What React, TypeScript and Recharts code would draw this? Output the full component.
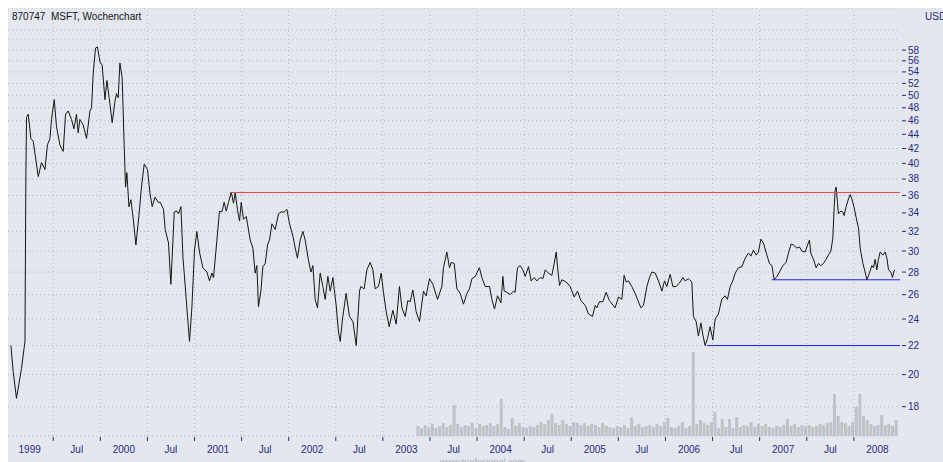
import React from 'react';
import { ComposedChart, Line, Bar, XAxis, YAxis, CartesianGrid, ReferenceLine } from 'recharts';

const closes: [number, number][] = [
  [1999.051, 22.0], [1999.075, 20.2], [1999.110, 18.5], [1999.163, 20.4], [1999.200, 22.3],
  [1999.210, 38.8], [1999.217, 46.5], [1999.235, 47.0], [1999.263, 43.4], [1999.288, 43.0],
  [1999.341, 38.3], [1999.376, 40.1], [1999.412, 39.2], [1999.439, 42.5], [1999.465, 43.4],
  [1999.482, 46.2], [1999.511, 49.3], [1999.535, 45.1], [1999.571, 42.5], [1999.606, 41.6],
  [1999.631, 47.0], [1999.659, 47.5], [1999.694, 46.2], [1999.720, 44.8], [1999.747, 47.0],
  [1999.765, 44.2], [1999.783, 46.2], [1999.818, 45.4], [1999.854, 43.4], [1999.890, 47.5],
  [1999.907, 48.0], [1999.925, 53.8], [1999.949, 58.4], [1999.970, 58.6], [1999.996, 55.8],
  [2000.020, 55.2], [2000.049, 49.3], [2000.070, 52.5], [2000.094, 49.6], [2000.126, 45.7],
  [2000.155, 49.0], [2000.172, 50.3], [2000.190, 49.6], [2000.208, 55.6], [2000.232, 53.0],
  [2000.251, 43.4], [2000.268, 37.0], [2000.282, 38.8], [2000.304, 34.7], [2000.325, 35.5],
  [2000.349, 33.4], [2000.378, 30.6], [2000.410, 33.7], [2000.437, 37.0], [2000.466, 39.9],
  [2000.501, 39.2], [2000.527, 36.3], [2000.551, 34.7], [2000.580, 35.8], [2000.615, 35.2],
  [2000.636, 35.2], [2000.671, 34.4], [2000.689, 32.2], [2000.724, 30.8], [2000.749, 26.9],
  [2000.763, 29.4], [2000.785, 34.1], [2000.813, 34.2], [2000.830, 33.9], [2000.856, 34.7],
  [2000.877, 29.4], [2000.901, 26.8], [2000.926, 24.2], [2000.947, 22.3], [2000.972, 24.9],
  [2001.000, 30.1], [2001.025, 32.0], [2001.053, 29.9], [2001.089, 28.4], [2001.132, 28.0],
  [2001.159, 27.2], [2001.185, 27.9], [2001.202, 27.5], [2001.238, 31.1], [2001.265, 34.2],
  [2001.291, 34.1], [2001.315, 35.2], [2001.337, 34.2], [2001.361, 35.2], [2001.390, 36.4],
  [2001.414, 35.1], [2001.432, 36.3], [2001.456, 34.4], [2001.478, 33.1], [2001.496, 35.2],
  [2001.520, 33.3], [2001.549, 33.6], [2001.563, 32.8], [2001.591, 31.1], [2001.620, 30.3],
  [2001.644, 27.9], [2001.662, 28.6], [2001.679, 25.0], [2001.705, 26.3], [2001.726, 28.5],
  [2001.751, 28.8], [2001.775, 30.6], [2001.796, 31.1], [2001.822, 32.8], [2001.857, 32.2],
  [2001.892, 33.9], [2001.917, 34.1], [2001.952, 34.1], [2001.981, 34.4], [2002.009, 32.8],
  [2002.045, 31.5], [2002.069, 30.3], [2002.093, 29.3], [2002.122, 31.1], [2002.151, 32.0],
  [2002.175, 31.1], [2002.210, 29.1], [2002.236, 28.0], [2002.257, 28.6], [2002.281, 25.6],
  [2002.306, 24.9], [2002.334, 27.9], [2002.363, 26.7], [2002.387, 25.6], [2002.416, 27.6],
  [2002.441, 26.3], [2002.469, 27.5], [2002.504, 25.1], [2002.529, 23.0], [2002.547, 22.3],
  [2002.571, 24.0], [2002.610, 26.1], [2002.645, 24.2], [2002.682, 23.8], [2002.717, 22.0],
  [2002.752, 26.3], [2002.766, 26.7], [2002.801, 26.5], [2002.830, 28.2], [2002.865, 28.9],
  [2002.894, 28.2], [2002.918, 26.5], [2002.953, 26.7], [2002.982, 27.9], [2003.006, 26.2],
  [2003.035, 24.6], [2003.067, 23.4], [2003.106, 24.7], [2003.141, 23.6], [2003.176, 26.7],
  [2003.202, 24.9], [2003.237, 24.2], [2003.265, 25.5], [2003.290, 25.4], [2003.318, 26.4],
  [2003.353, 24.6], [2003.389, 23.8], [2003.431, 26.3], [2003.460, 25.9], [2003.495, 27.4],
  [2003.531, 26.9], [2003.580, 25.6], [2003.626, 26.7], [2003.643, 28.4], [2003.679, 29.9],
  [2003.707, 28.4], [2003.725, 28.9], [2003.757, 28.8], [2003.786, 26.5], [2003.821, 26.1],
  [2003.856, 25.2], [2003.892, 26.1], [2003.919, 26.5], [2003.945, 27.4], [2003.980, 27.6],
  [2004.025, 28.4], [2004.051, 27.5], [2004.086, 26.7], [2004.132, 26.7], [2004.157, 25.6],
  [2004.185, 24.8], [2004.217, 25.9], [2004.253, 25.3], [2004.274, 27.6], [2004.288, 26.3],
  [2004.316, 26.2], [2004.351, 26.0], [2004.386, 26.3], [2004.404, 26.2], [2004.429, 28.4],
  [2004.458, 28.6], [2004.486, 28.2], [2004.511, 27.6], [2004.546, 28.5], [2004.574, 27.2],
  [2004.606, 27.5], [2004.635, 27.2], [2004.670, 27.5], [2004.699, 27.4], [2004.723, 28.2],
  [2004.758, 27.9], [2004.794, 27.7], [2004.819, 28.8], [2004.840, 29.9], [2004.854, 28.5],
  [2004.875, 26.8], [2004.900, 27.3], [2004.946, 27.1], [2004.988, 26.7], [2005.031, 25.8],
  [2005.066, 26.3], [2005.102, 25.5], [2005.148, 25.1], [2005.183, 24.4], [2005.225, 24.2],
  [2005.254, 25.1], [2005.272, 24.9], [2005.299, 25.4], [2005.335, 25.4], [2005.370, 26.2],
  [2005.405, 25.5], [2005.466, 24.9], [2005.501, 25.8], [2005.537, 25.6], [2005.561, 27.7],
  [2005.583, 27.1], [2005.607, 27.2], [2005.643, 26.7], [2005.678, 26.1], [2005.703, 25.6],
  [2005.739, 24.9], [2005.767, 25.1], [2005.803, 26.7], [2005.830, 27.5], [2005.856, 28.0],
  [2005.891, 27.9], [2005.926, 27.2], [2005.962, 26.3], [2005.990, 27.2], [2006.015, 26.7],
  [2006.050, 27.8], [2006.079, 26.7], [2006.114, 26.7], [2006.156, 27.1], [2006.185, 27.5],
  [2006.209, 27.2], [2006.244, 27.4], [2006.280, 27.1], [2006.297, 24.2], [2006.326, 23.8],
  [2006.350, 22.7], [2006.376, 23.7], [2006.397, 22.8], [2006.421, 22.0], [2006.446, 22.5],
  [2006.474, 23.4], [2006.503, 22.4], [2006.527, 24.0], [2006.562, 24.4], [2006.598, 25.6],
  [2006.633, 25.9], [2006.658, 25.6], [2006.687, 26.7], [2006.715, 27.2], [2006.740, 27.9],
  [2006.775, 28.4], [2006.811, 28.5], [2006.846, 29.3], [2006.881, 29.8], [2006.907, 29.5],
  [2006.934, 30.1], [2006.963, 29.6], [2006.987, 29.9], [2007.013, 31.2], [2007.040, 30.8],
  [2007.077, 29.6], [2007.104, 28.8], [2007.130, 28.6], [2007.154, 27.3], [2007.183, 27.6],
  [2007.210, 28.0], [2007.246, 28.6], [2007.281, 28.9], [2007.306, 29.8], [2007.334, 30.7],
  [2007.359, 30.6], [2007.395, 30.3], [2007.423, 30.4], [2007.448, 30.0], [2007.483, 29.9],
  [2007.501, 30.4], [2007.529, 31.1], [2007.543, 29.8], [2007.571, 29.2], [2007.600, 28.4],
  [2007.624, 28.8], [2007.650, 28.6], [2007.677, 28.8], [2007.706, 29.2], [2007.730, 29.6],
  [2007.756, 30.0], [2007.777, 31.3], [2007.791, 34.6], [2007.801, 36.6], [2007.812, 37.0],
  [2007.826, 35.2], [2007.836, 33.9], [2007.862, 34.2], [2007.883, 34.1], [2007.897, 33.7],
  [2007.918, 34.7], [2007.943, 35.6], [2007.961, 36.1], [2007.979, 35.6], [2008.003, 34.6],
  [2008.032, 33.1], [2008.049, 32.4], [2008.067, 30.3], [2008.096, 28.8], [2008.120, 28.0],
  [2008.138, 27.3], [2008.166, 27.9], [2008.191, 28.6], [2008.208, 28.4], [2008.226, 29.2],
  [2008.244, 28.2], [2008.261, 29.2], [2008.279, 29.9], [2008.308, 29.6], [2008.333, 29.9],
  [2008.351, 29.3], [2008.368, 28.2], [2008.393, 28.0], [2008.410, 27.5], [2008.431, 28.2],
];

// Umsatz (Mio. Stück), zweiwöchentlich ab Mai 2003
const volumeStart = 2003.375;
const volumeStep = 1 / 26;
const volumes = [
  200, 160, 220, 180, 240, 160, 200, 260, 180, 220, 620, 240, 180, 220, 200, 260, 160, 240, 200, 220,
  260, 200, 240, 740, 180, 140, 360, 200, 260, 180, 160, 200, 180, 220, 280, 240, 320, 440, 260, 220,
  320, 240, 200, 280, 260, 220, 260, 200, 240, 220, 180, 260, 200, 180, 160, 200, 180, 220, 160, 380,
  200, 240, 180, 200, 220, 180, 240, 200, 280, 360, 180, 160, 200, 280, 160, 200, 1680, 240, 320, 260,
  220, 280, 480, 160, 340, 180, 340, 160, 380, 180, 220, 200, 280, 180, 240, 200, 240, 180, 160, 200,
  180, 220, 340, 200, 240, 180, 220, 200, 220, 180, 200, 240, 220, 260, 280, 840, 400, 280, 260, 200,
  280, 580, 840, 400, 320, 240, 200, 220, 420, 220, 240, 200, 320,
];

const priceTicks = [18, 20, 22, 24, 26, 28, 30, 32, 34, 36, 38, 40, 42, 44, 46, 48, 50, 52, 54, 56, 58, 60, 62];
const labeledMax = 58;

const halfYears = [
  1999.5, 2000, 2000.5, 2001, 2001.5, 2002, 2002.5, 2003, 2003.5,
  2004, 2004.5, 2005, 2005.5, 2006, 2006.5, 2007, 2007.5, 2008,
];
const periodMids = [
  1999.25, 1999.75, 2000.25, 2000.75, 2001.25, 2001.75, 2002.25, 2002.75, 2003.25, 2003.75,
  2004.25, 2004.75, 2005.25, 2005.75, 2006.25, 2006.75, 2007.25, 2007.75, 2008.25,
];
const periodNames = [
  '1999', 'Jul', '2000', 'Jul', '2001', 'Jul', '2002', 'Jul', '2003', 'Jul',
  '2004', 'Jul', '2005', 'Jul', '2006', 'Jul', '2007', 'Jul', '2008',
];

const resistance = { from: 2001.39, level: 36.35 };
const supports = [
  { from: 2007.13, level: 27.3 },
  { from: 2006.44, level: 22.0 },
];

const xStart = 1999.02;
const xEnd = 2008.49;

const navy = '#272a80';
const gridColor = '#b2b7c2';
const font = '"Liberation Sans", Arial, sans-serif';

const priceData = closes.map(([t, close]) => ({ t, close }));
const volumeData = volumes.map((volume, i) => ({ t: volumeStart + i * volumeStep, volume }));

const PriceTick = (props: any) => {
  const { x, y, payload } = props;
  if (payload.value > labeledMax) return <g />;
  return (
    <g>
      <line x1={x + 2} x2={x + 6} y1={y} y2={y} stroke={navy} />
      <text x={x + 8} y={y} dy="0.35em" fill={navy} fontSize={10} fontFamily={font}>
        {payload.value}
      </text>
    </g>
  );
};

const TimeTick = (props: any) => {
  const { x, y, payload } = props;
  const idx = periodMids.indexOf(payload.value);
  if (idx < 0) {
    return <line x1={x} x2={x} y1={y + 1} y2={y + 5} stroke={navy} />;
  }
  return (
    <text x={x} y={y + 17} textAnchor="middle" fill={navy} fontSize={10} fontFamily={font}>
      {periodNames[idx]}
    </text>
  );
};

export default function App() {
  return (
    <div
      style={{
        position: 'absolute',
        left: 8,
        top: 8,
        width: 935,
        height: 454,
        background: '#e4e7ee',
        overflow: 'hidden',
        fontFamily: font,
      }}
    >
      <ComposedChart width={935} height={454} data={volumeData} margin={{ top: 0, right: 0, bottom: 0, left: 0 }}>
        <CartesianGrid yAxisId="price" vertical={false} stroke={gridColor} strokeDasharray="1 3" />
        <XAxis
          dataKey="t"
          type="number"
          domain={[xStart, xEnd]}
          allowDataOverflow
          ticks={[...halfYears, ...periodMids].sort((a, b) => a - b)}
          interval={0}
          height={26}
          axisLine={false}
          tickLine={false}
          tickSize={0}
          tickMargin={0}
          tick={<TimeTick />}
        />
        <XAxis xAxisId="vol" dataKey="t" type="number" domain={[xStart, xEnd]} allowDataOverflow hide />
        <YAxis
          yAxisId="price"
          orientation="right"
          type="number"
          scale="log"
          domain={[16.35, 66.6]}
          allowDataOverflow
          ticks={priceTicks}
          interval={0}
          width={43}
          axisLine={false}
          tickLine={false}
          tickSize={0}
          tickMargin={0}
          tick={<PriceTick />}
        />
        <YAxis yAxisId="vol" hide type="number" domain={[0, 8560]} allowDataOverflow />
        {halfYears.map((h) => (
          <ReferenceLine key={`hy-${h}`} yAxisId="price" x={h} stroke={gridColor} strokeDasharray="1 3" />
        ))}
        <Bar
          xAxisId="vol"
          yAxisId="vol"
          dataKey="volume"
          fill="#c1c2c8"
          barSize={3}
          isAnimationActive={false}
        />
        <Line
          yAxisId="price"
          data={priceData}
          dataKey="close"
          type="linear"
          stroke="#151515"
          strokeWidth={1}
          dot={false}
          activeDot={false}
          isAnimationActive={false}
        />
        <ReferenceLine
          yAxisId="price"
          segment={[{ x: resistance.from, y: resistance.level }, { x: xEnd, y: resistance.level }]}
          stroke="#f24444"
          strokeWidth={1}
        />
        {supports.map((s) => (
          <ReferenceLine
            key={`sup-${s.level}`}
            yAxisId="price"
            segment={[{ x: s.from, y: s.level }, { x: xEnd, y: s.level }]}
            stroke="#1d1ded"
            strokeWidth={1}
          />
        ))}
      </ComposedChart>
      <div style={{ position: 'absolute', left: 4, top: 4, fontSize: 10, lineHeight: '10px', color: '#151515', whiteSpace: 'pre' }}>
        {'870747  MSFT, Wochenchart'}
      </div>
      <div style={{ position: 'absolute', left: 917, top: 4, fontSize: 10, lineHeight: '10px', color: navy, whiteSpace: 'pre' }}>
        USD
      </div>
      <div style={{ position: 'absolute', left: 432, top: 450, fontSize: 9, lineHeight: '9px', color: '#a9aeba', whiteSpace: 'pre' }}>
        www.tradesignal.com
      </div>
    </div>
  );
}
